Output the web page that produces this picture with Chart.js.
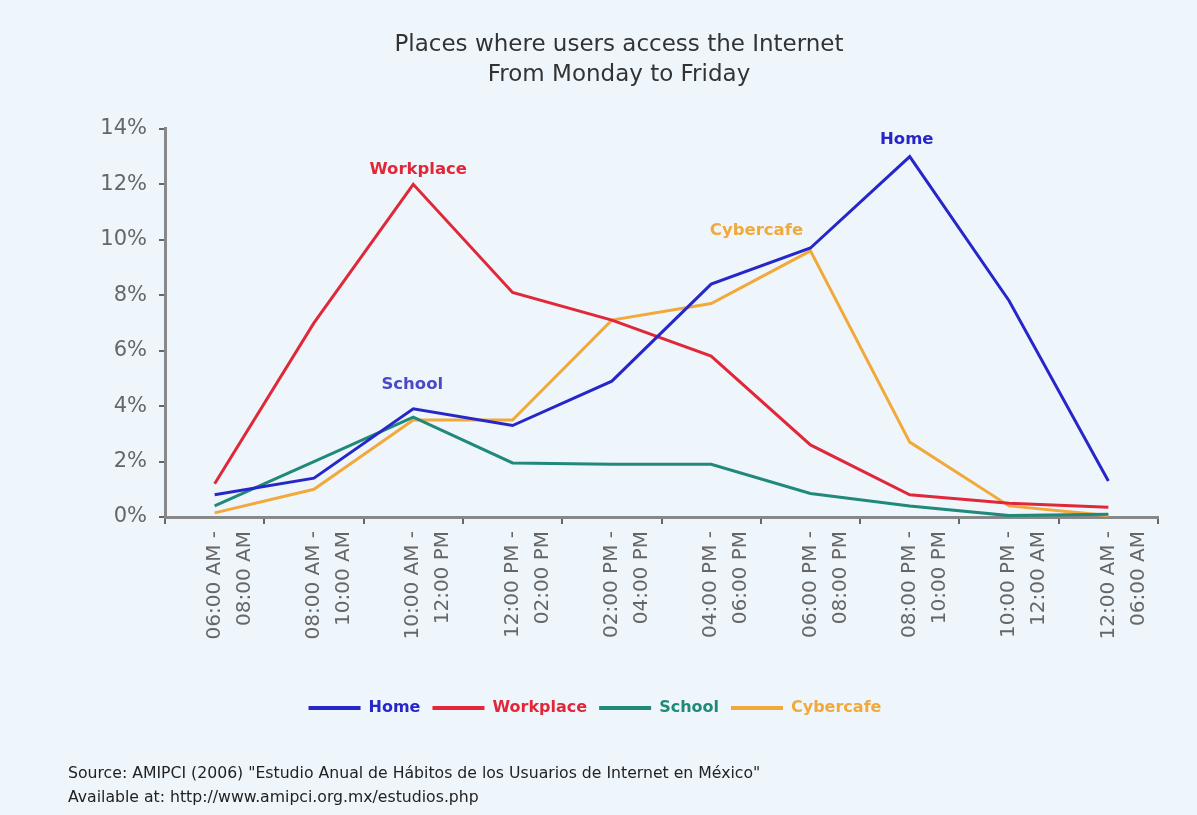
<!DOCTYPE html>
<html>
<head>
<meta charset="utf-8">
<script src="https://cdn.jsdelivr.net/npm/chart.js@4.4.1/dist/chart.umd.min.js"></script>
<style>
  html, body { margin: 0; padding: 0; background: #eff6fb; }
  #wrap { position: relative; width: 1197px; height: 815px; }
  canvas { display: block; }
  .src { position: absolute; left: 68px; font-family: "DejaVu Sans", sans-serif; font-size: 15.7px; color: #222; white-space: nowrap; }
</style>
</head>
<body>
<div id="wrap">
  <canvas id="c" width="1197" height="815"></canvas>
  <div class="src" style="top:763px">Source: AMIPCI (2006) "Estudio Anual de Hábitos de los Usuarios de Internet en México"</div>
  <div class="src" style="top:787px">Available at: http://www.amipci.org.mx/estudios.php</div>
</div>
<script>
const categories = [
  ["06:00 AM -", "08:00 AM"],
  ["08:00 AM -", "10:00 AM"],
  ["10:00 AM -", "12:00 PM"],
  ["12:00 PM -", "02:00 PM"],
  ["02:00 PM -", "04:00 PM"],
  ["04:00 PM -", "06:00 PM"],
  ["06:00 PM -", "08:00 PM"],
  ["08:00 PM -", "10:00 PM"],
  ["10:00 PM -", "12:00 AM"],
  ["12:00 AM -", "06:00 AM"]
];
const home      = [0.8, 1.4, 3.9, 3.3, 4.9, 8.4, 9.7, 13.0, 7.8, 1.3];
const workplace = [1.2, 7.0, 12.0, 8.1, 7.1, 5.8, 2.6, 0.8, 0.5, 0.35];
const school    = [0.4, 2.0, 3.6, 1.95, 1.9, 1.9, 0.85, 0.4, 0.05, 0.1];
const cybercafe = [0.15, 1.0, 3.5, 3.5, 7.1, 7.7, 9.6, 2.7, 0.4, 0.05];
const seriesNames = ["Home", "Workplace", "School", "Cybercafe"];
const seriesColors = ["#2727c9", "#e0283a", "#21897a", "#f2a93b"];
const yTicks = [0, 2, 4, 6, 8, 10, 12, 14];
const titleLines = ["Places where users access the Internet", "From Monday to Friday"];
// annotation labels: text, category index, value, colour
const annotations = [
  { text: "Workplace", idx: 2, value: 12.0, color: "#e0283a", dx: 5,  dy: -15 },
  { text: "Home",      idx: 7, value: 13.0, color: "#2727c9", dx: -3, dy: -17 },
  { text: "Cybercafe", idx: 6, value: 9.6,  color: "#f2a93b", dx: -54, dy: -20 },
  { text: "School",    idx: 2, value: 3.9,  color: "#4a4ac8", dx: -1, dy: -24 }
];

const dataSets = [home, workplace, school, cybercafe];
const FONT = '"DejaVu Sans", sans-serif';

const annotationPlugin = {
  id: 'annot',
  afterDatasetsDraw(chart) {
    const ctx = chart.ctx;
    const xs = chart.scales.x, ys = chart.scales.y;
    ctx.save();
    ctx.font = 'bold 16.5px ' + FONT;
    ctx.textAlign = 'center';
    ctx.textBaseline = 'middle';
    annotations.forEach(a => {
      ctx.fillStyle = a.color;
      ctx.fillText(a.text, xs.getPixelForValue(a.idx) + a.dx, ys.getPixelForValue(a.value) + a.dy);
    });
    ctx.restore();
  }
};

const bgPlugin = {
  id: 'bg',
  beforeDraw(chart) {
    const ctx = chart.ctx;
    ctx.save();
    ctx.fillStyle = '#eff6fb';
    ctx.fillRect(0, 0, chart.width, chart.height);
    ctx.restore();
  }
};

// centre the legend on the page rather than on the padded box
const legendShift = {
  id: 'legendShift',
  afterLayout(chart) {
    if (chart.legend) { chart.legend.left -= 24; chart.legend.right -= 24; }
  }
};

new Chart(document.getElementById('c'), {
  type: 'line',
  data: {
    labels: categories,
    datasets: seriesNames.map((n, i) => ({
      label: n,
      data: dataSets[i],
      borderColor: seriesColors[i],
      backgroundColor: seriesColors[i],
      borderWidth: 3,
      pointRadius: 0,
      tension: 0,
      fill: false
    }))
  },
  options: {
    responsive: false,
    animation: false,
    layout: { padding: { left: 80, right: 39, top: 30, bottom: 89 } },
    plugins: {
      title: {
        display: true,
        text: titleLines,
        color: '#333',
        font: { family: FONT, size: 23, weight: 'normal', lineHeight: 1.3 },
        padding: { top: 0, bottom: 39 }
      },
      legend: {
        position: 'bottom',
        labels: {
          boxWidth: 52,
          boxHeight: 4,
          padding: 12,
          font: { family: FONT, size: 16, weight: 'bold' },
          generateLabels(chart) {
            return chart.data.datasets.map((d, i) => ({
              text: d.label,
              fillStyle: d.borderColor,
              strokeStyle: d.borderColor,
              lineWidth: 0,
              fontColor: d.borderColor,
              datasetIndex: i,
              hidden: false
            }));
          }
        }
      },
      tooltip: { enabled: false }
    },
    scales: {
      x: {
        offset: true,
        grid: { display: true, offset: true, drawOnChartArea: false, drawTicks: true, tickLength: 7, color: '#666', lineWidth: 2 },
        border: { display: true, color: '#888', width: 3 },
        ticks: {
          color: '#666',
          font: { family: FONT, size: 20, lineHeight: 1.5 },
          minRotation: 90, maxRotation: 90,
          autoSkip: false,
          padding: 7
        },
        afterFit(s) { s.height = 171; }
      },
      y: {
        min: 0, max: 14,
        afterBuildTicks(s) { s.ticks = yTicks.map(v => ({ value: v })); },
        grid: { display: true, drawOnChartArea: false, drawTicks: true, tickLength: 6, color: '#666', lineWidth: 2 },
        border: { display: true, color: '#888', width: 3 },
        ticks: {
          color: '#666',
          font: { family: FONT, size: 21 },
          padding: 12,
          callback: v => v + '%'
        },
        afterFit(s) { s.width = 85; }
      }
    }
  },
  plugins: [bgPlugin, legendShift, annotationPlugin]
});
</script>
</body>
</html>
